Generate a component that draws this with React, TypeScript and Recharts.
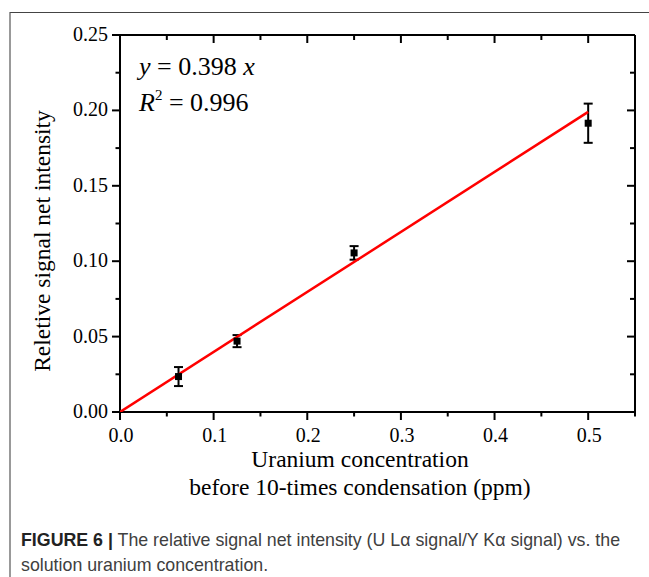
import React from "react";
import { ComposedChart, Scatter, ErrorBar, XAxis, YAxis, ZAxis } from "recharts";

// measured points (x: ppm before condensation, y: relative net intensity)
const concentration = [0.0625, 0.125, 0.25, 0.5];
const intensity = [0.0235, 0.047, 0.1055, 0.1915];
const intensityErr = [0.0063, 0.004, 0.0045, 0.013];

// linear fit y = 0.398 x
const fitX = [0, 0.5];
const fitY = [0, 0.199];

const xTicks = [0, 0.05, 0.1, 0.15, 0.2, 0.25, 0.3, 0.35, 0.4, 0.45, 0.5, 0.55];
const yTicks = [0, 0.025, 0.05, 0.075, 0.1, 0.125, 0.15, 0.175, 0.2, 0.225, 0.25];

const points = concentration.map((x, i) => ({ x, y: intensity[i], err: intensityErr[i] }));
const fit = fitX.map((x, i) => ({ x, y: fitY[i] }));

const SERIF = "'Liberation Serif', 'Times New Roman', serif";
const SANS = "'Liberation Sans', Arial, sans-serif";

const isMajorX = (v: number) => Math.round(v * 100) % 10 === 0;
const isMajorY = (v: number) => Math.round(v * 1000) % 50 === 0;

function BottomTick(p: any) {
  const v = p.payload.value;
  const major = isMajorX(v);
  return (
    <g>
      <line x1={p.x} x2={p.x} y1={p.y} y2={p.y + (major ? 8 : 4.5)} stroke="#000" strokeWidth={2} />
      {major && v < 0.55 && (
        <text x={p.x + 1} y={p.y + 30} textAnchor="middle" fontSize={20} fontFamily={SERIF} fill="#000">
          {v.toFixed(1)}
        </text>
      )}
    </g>
  );
}

function TopTick(p: any) {
  const major = isMajorX(p.payload.value);
  return <line x1={p.x} x2={p.x} y1={p.y} y2={p.y + (major ? 8 : 5)} stroke="#000" strokeWidth={2} />;
}

function LeftTick(p: any) {
  const v = p.payload.value;
  const major = isMajorY(v);
  return (
    <g>
      <line x1={p.x - (major ? 8 : 4.5)} x2={p.x} y1={p.y} y2={p.y} stroke="#000" strokeWidth={2} />
      {major && (
        <text x={p.x - 12} y={p.y + 6} textAnchor="end" fontSize={20} fontFamily={SERIF} fill="#000">
          {v.toFixed(2)}
        </text>
      )}
    </g>
  );
}

function RightTick(p: any) {
  const major = isMajorY(p.payload.value);
  return <line x1={p.x - (major ? 8 : 5)} x2={p.x} y1={p.y} y2={p.y} stroke="#000" strokeWidth={2} />;
}

const SquareDot = (p: any) => <rect x={p.cx - 3.5} y={p.cy - 3.5} width={7} height={7} fill="#000" />;
const NoDot = () => <g />;

export default function App() {
  return (
    <div style={{ position: "absolute", left: 0, top: 0, width: 649, height: 577, background: "#fff" }}>
      <ComposedChart width={649} height={577} margin={{ top: 34, right: 13, bottom: 135, left: 60 }}>
        <XAxis
          xAxisId="b"
          dataKey="x"
          type="number"
          domain={[0, 0.55]}
          ticks={xTicks}
          interval={0}
          height={30}
          allowDataOverflow
          axisLine={{ stroke: "#000", strokeWidth: 2 }}
          tickLine={false}
          tickSize={0}
          tickMargin={0}
          tick={(p: any) => <BottomTick {...p} />}
        />
        <XAxis
          xAxisId="t"
          orientation="top"
          dataKey="x"
          type="number"
          domain={[0, 0.55]}
          ticks={xTicks}
          interval={0}
          height={1}
          allowDataOverflow
          axisLine={{ stroke: "#000", strokeWidth: 2 }}
          tickLine={false}
          tickSize={0}
          tickMargin={0}
          tick={(p: any) => <TopTick {...p} />}
        />
        <YAxis
          yAxisId="l"
          dataKey="y"
          type="number"
          domain={[0, 0.25]}
          ticks={yTicks}
          interval={0}
          width={60}
          allowDataOverflow
          axisLine={{ stroke: "#000", strokeWidth: 2 }}
          tickLine={false}
          tickSize={0}
          tickMargin={0}
          tick={(p: any) => <LeftTick {...p} />}
        />
        <YAxis
          yAxisId="r"
          orientation="right"
          dataKey="y"
          type="number"
          domain={[0, 0.25]}
          ticks={yTicks}
          interval={0}
          width={1}
          allowDataOverflow
          axisLine={{ stroke: "#000", strokeWidth: 2 }}
          tickLine={false}
          tickSize={0}
          tickMargin={0}
          tick={(p: any) => <RightTick {...p} />}
        />
        <ZAxis range={[49, 49]} />
        <Scatter
          xAxisId="b"
          yAxisId="l"
          data={fit}
          line={{ stroke: "#ff0000", strokeWidth: 2.5 }}
          shape={NoDot}
          isAnimationActive={false}
        />
        <Scatter xAxisId="b" yAxisId="l" data={points} shape={SquareDot} isAnimationActive={false}>
          <ErrorBar dataKey="err" direction="y" width={4.5} stroke="#000" strokeWidth={2} isAnimationActive={false} />
        </Scatter>
      </ComposedChart>

      <svg width={649} height={577} style={{ position: "absolute", left: 0, top: 0, pointerEvents: "none" }}>
        <line x1={10} x2={649} y1={12.5} y2={12.5} stroke="#444" strokeWidth={1.2} />
        <line x1={10} x2={10} y1={12} y2={577} stroke="#555" strokeWidth={1.2} />

        <text x={139} y={75} fontSize={26} fontFamily={SERIF} fill="#000">
          <tspan fontStyle="italic">y</tspan> = 0.398 <tspan fontStyle="italic">x</tspan>
        </text>
        <text x={139} y={111} fontSize={26} fontFamily={SERIF} fill="#000">
          <tspan fontStyle="italic">R</tspan>
          <tspan dy={-11} fontSize={15}>2</tspan>
          <tspan dy={11}> = 0.996</tspan>
        </text>

        <text
          x={50}
          y={241}
          transform="rotate(-90 50 241)"
          textAnchor="middle"
          fontSize={23.5}
          fontFamily={SERIF}
          fill="#000"
        >
          Reletive signal net intensity
        </text>
        <text x={360} y={467} textAnchor="middle" fontSize={23.5} fontFamily={SERIF} fill="#000">
          Uranium concentration
        </text>
        <text x={360} y={495} textAnchor="middle" fontSize={23.5} fontFamily={SERIF} fill="#000">
          before 10-times condensation (ppm)
        </text>

        <text x={21} y={546} fontSize={17.8} fontFamily={SANS} fill="#404040">
          <tspan fontWeight="bold" fill="#222">FIGURE 6 |</tspan> The relative signal net intensity (U Lα signal/Y Kα signal) vs. the
        </text>
        <text x={21} y={571} fontSize={17.8} fontFamily={SANS} fill="#404040">
          solution uranium concentration.
        </text>
      </svg>
    </div>
  );
}
